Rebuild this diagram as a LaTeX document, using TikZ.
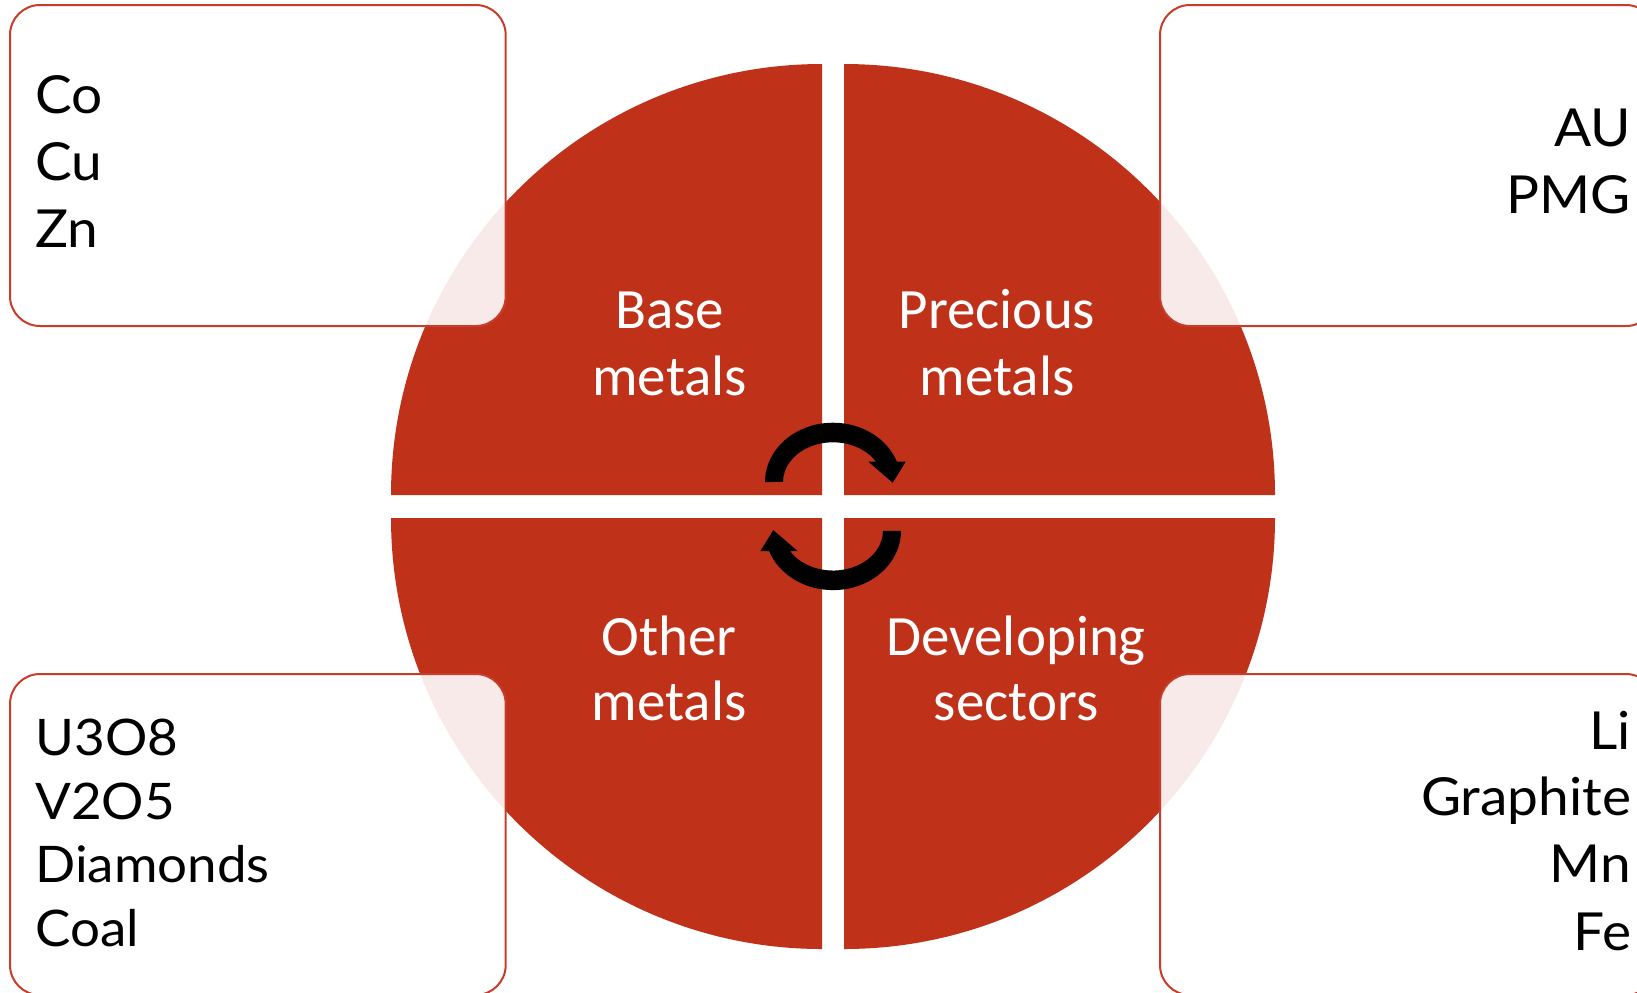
\documentclass[tikz,border=0pt]{standalone}
\usepackage{fontspec}
\setmainfont[FakeStretch=1.05]{Lato}
\newfontfamily\labelfont{Carlito}
\definecolor{mred}{RGB}{192,49,26}
\definecolor{bred}{RGB}{200,60,42}
\begin{document}
\begin{tikzpicture}[x=0.5pt,y=-0.5pt,
  quad/.style={fill=mred},
  infobox/.style={draw=bred, line width=1pt, fill=white, fill opacity=0.9, rounded corners=15pt},
  lbl/.style={text=white, font=\labelfont\fontsize{28.5}{34}\selectfont, inner sep=0pt, anchor=base},
  itemL/.style={font=\fontsize{26.2}{32}\selectfont, inner sep=0pt, anchor=base west},
  itemS/.style={font=\fontsize{25.2}{30}\selectfont, inner sep=0pt, anchor=base west},
  itemR/.style={font=\fontsize{26.2}{32}\selectfont, inner sep=0pt, anchor=base east},
  cyc/.style={fill=black}
]
\useasboundingbox (0,0) rectangle (1637,992);
\clip (0,0) rectangle (1637,992);
% quadrants
\fill[quad] (822,495) -- (391,495) arc[start angle=180,end angle=270,radius=431] -- cycle;
\fill[quad] (844,495) -- (1275,495) arc[start angle=0,end angle=-90,radius=431] -- cycle;
\fill[quad] (822,518) -- (391,518) arc[start angle=180,end angle=90,radius=431] -- cycle;
\fill[quad] (844,518) -- (1275,518) arc[start angle=0,end angle=90,radius=431] -- cycle;
% boxes
\draw[infobox] (10,5) rectangle (505.7,326);
\draw[infobox] (1160,5) rectangle (1656,326);
\draw[infobox] (10,674) rectangle (505.7,995);
\draw[infobox] (1160,674) rectangle (1656,995);
% cycle arrows
\fill[cyc] (765,482) arc[start angle=180,end angle=340,x radius=68,y radius=59.3]
  -- (905.7,461.7) -- (892.7,482.7) -- (868.3,461.7) -- (876,461.7)
  arc[start angle=329.3,end angle=180,x radius=50,y radius=39.7] -- cycle;
\begin{scope}[rotate around={180:(833,506.4)}]
\fill[cyc] (765,482) arc[start angle=180,end angle=340,x radius=68,y radius=59.3]
  -- (905.7,461.7) -- (892.7,482.7) -- (868.3,461.7) -- (876,461.7)
  arc[start angle=329.3,end angle=180,x radius=50,y radius=39.7] -- cycle;
\end{scope}
% labels
\node[lbl] (base1) at (669.7,328.5) {Base};
\node[lbl] (base2) at (669.7,395.5) {metals};
\node[lbl] (prec1) at (997,328.5) {Precious};
\node[lbl] (prec2) at (997,395.5) {metals};
\node[lbl] (oth1) at (669,655) {Other};
\node[lbl] (oth2) at (669,720) {metals};
\node[lbl] (dev1) at (1016,655) {Developing};
\node[lbl] (dev2) at (1016,720) {sectors};
% box items
\node[itemL] (co) at (35,113) {Co};
\node[itemL] (cu) at (35,180) {Cu};
\node[itemL] (zn) at (35,247) {Zn};
\node[itemR] (au) at (1631.5,146.7) {AU};
\node[itemR] (pmg) at (1631.5,213) {PMG};
\node[itemS] (u3o8) at (35,755.7) {U3O8};
\node[itemS] (v2o5) at (35,819.3) {V2O5};
\node[itemS] (diam) at (35,882.7) {Diamonds};
\node[itemS] (coal) at (35,946.7) {Coal};
\node[itemR] (li) at (1631.5,749) {Li};
\node[itemR] (graph) at (1631.5,815.7) {Graphite};
\node[itemR] (mn) at (1631.5,882.7) {Mn};
\node[itemR] (fe) at (1631.5,950) {Fe};
\end{tikzpicture}
\end{document}
